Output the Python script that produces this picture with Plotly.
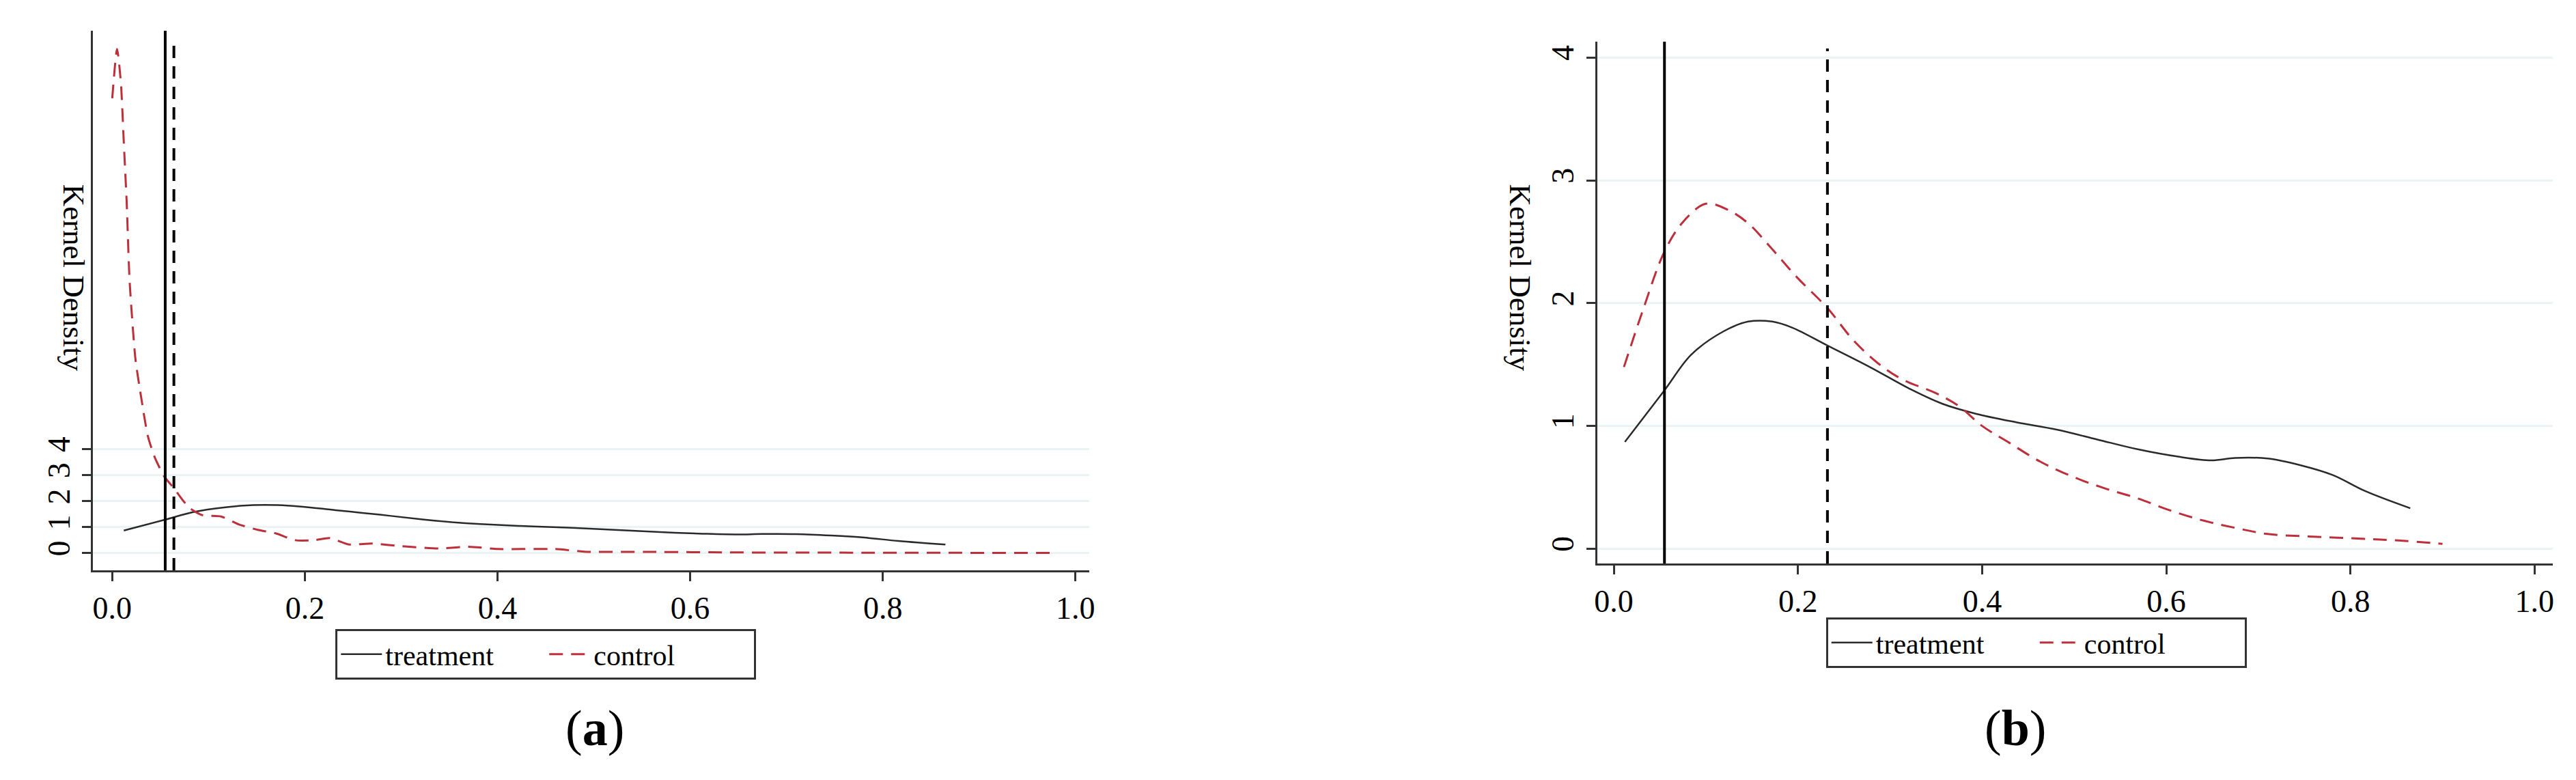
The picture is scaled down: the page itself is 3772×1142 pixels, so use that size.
import plotly.graph_objects as go

# treatment density (same sample in both panels)
treat_x = [0.012, 0.055, 0.084, 0.119, 0.146, 0.172, 0.194, 0.232, 0.278, 0.322, 0.357, 0.393,
           0.437, 0.481, 0.525, 0.569, 0.613, 0.649, 0.675, 0.710, 0.746, 0.781, 0.816, 0.865]
treat_y = [0.87, 1.29, 1.58, 1.77, 1.85, 1.85, 1.80, 1.655, 1.48, 1.30, 1.18, 1.10,
           1.03, 0.97, 0.89, 0.81, 0.75, 0.72, 0.74, 0.735, 0.68, 0.60, 0.47, 0.33]

# control density, panel (a)
ctrl_a_x = [0.0, 0.005, 0.009, 0.012, 0.015, 0.018, 0.024, 0.030, 0.037, 0.044, 0.054, 0.064,
            0.074, 0.081, 0.094, 0.113, 0.132, 0.151, 0.170, 0.190, 0.210, 0.226, 0.245, 0.270,
            0.300, 0.340, 0.370, 0.400, 0.460, 0.490, 0.560, 0.640, 0.780, 0.978]
ctrl_a_y = [17.5, 19.4, 18.1, 15.8, 13.5, 10.5, 7.5, 6.0, 4.5, 3.7, 2.95, 2.5,
            2.0, 1.72, 1.46, 1.41, 1.1, 0.9, 0.76, 0.5, 0.5, 0.58, 0.34, 0.37,
            0.27, 0.18, 0.25, 0.16, 0.16, 0.06, 0.05, 0.03, 0.02, 0.01]

# control density, panel (b)
ctrl_b_x = [0.011, 0.031, 0.055, 0.075, 0.100, 0.124, 0.146, 0.172, 0.199, 0.232, 0.260, 0.287,
            0.313, 0.349, 0.375, 0.400, 0.428, 0.463, 0.499, 0.534, 0.569, 0.605, 0.640, 0.675,
            0.710, 0.755, 0.808, 0.852, 0.900]
ctrl_b_y = [1.48, 1.93, 2.42, 2.66, 2.81, 2.76, 2.65, 2.44, 2.21, 1.96, 1.70, 1.51,
            1.38, 1.27, 1.16, 1.00, 0.87, 0.71, 0.585, 0.49, 0.41, 0.31, 0.23, 0.17,
            0.12, 0.10, 0.083, 0.067, 0.04]

# means (vertical reference lines)
mean_treat_a, mean_ctrl_a = 0.055, 0.064
mean_treat_b, mean_ctrl_b = 0.055, 0.232

x_ticks = [0.0, 0.2, 0.4, 0.6, 0.8, 1.0]
y_ticks = [0, 1, 2, 3, 4]

FONT = "Liberation Serif"
AX = "#333333"
GRID = "#ebf4f4"
RED = "#bd2f3a"
TREAT = "#2a2a2a"

fig = go.Figure()

fig.add_trace(go.Scatter(x=treat_x, y=treat_y, mode="lines", name="treatment",
                         line=dict(color=TREAT, width=2.5, shape="spline"),
                         xaxis="x", yaxis="y", legend="legend"))
fig.add_trace(go.Scatter(x=ctrl_a_x, y=ctrl_a_y, mode="lines", name="control",
                         line=dict(color=RED, width=3, dash="20px,12px", shape="spline", smoothing=0.6),
                         xaxis="x", yaxis="y", legend="legend"))

fig.add_trace(go.Scatter(x=treat_x, y=treat_y, mode="lines", name="treatment",
                         line=dict(color=TREAT, width=2.5, shape="spline"),
                         xaxis="x2", yaxis="y2", legend="legend2"))
fig.add_trace(go.Scatter(x=ctrl_b_x, y=ctrl_b_y, mode="lines", name="control",
                         line=dict(color=RED, width=3, dash="20px,12px", shape="spline"),
                         xaxis="x2", yaxis="y2", legend="legend2"))

# mean lines
for xr, yr, xv, top, dash in [("x", "y", mean_treat_a, 1.0, "solid"),
                              ("x", "y", mean_ctrl_a, 0.985, "18px,12px"),
                              ("x2", "y2", mean_treat_b, 1.0, "solid"),
                              ("x2", "y2", mean_ctrl_b, 0.987, "18px,12px")]:
    fig.add_shape(type="line", xref=xr, yref=yr + " domain", x0=xv, x1=xv, y0=0, y1=top,
                  line=dict(color="black", width=4, dash=dash))

axis_common = dict(showline=True, linecolor=AX, linewidth=3, ticks="outside", ticklen=13,
                   tickwidth=3, tickcolor=AX, zeroline=False,
                   tickfont=dict(family=FONT, size=46, color="black"))

xa = dict(axis_common, showgrid=False, tickvals=x_ticks, tickformat=".1f")
ya = dict(axis_common, showgrid=True, gridcolor=GRID, gridwidth=3, tickvals=y_ticks,
          tickangle=-90)

fig.update_layout(
    width=3772, height=1142, autosize=False,
    margin=dict(l=0, r=0, t=0, b=0),
    paper_bgcolor="white", plot_bgcolor="white",
    font=dict(family=FONT, color="black"),
    xaxis=dict(xa, domain=[0.0331, 0.4210], range=[-0.0198, 1.014], anchor="y"),
    yaxis=dict(ya, domain=[0.2758, 0.9676], range=[-0.66, 20.1], anchor="x"),
    xaxis2=dict(xa, domain=[0.6190, 0.9913], range=[-0.018, 1.020], anchor="y2"),
    yaxis2=dict(ya, domain=[0.2846, 0.9536], range=[-0.12, 4.13], anchor="x2"),
    legend=dict(orientation="h", x=0.1275, y=0.2005, xanchor="left", yanchor="top",
                bordercolor=AX, borderwidth=3, font=dict(family=FONT, size=42),
                entrywidth=230, itemwidth=60),
    legend2=dict(orientation="h", x=0.7081, y=0.2154, xanchor="left", yanchor="top",
                 bordercolor=AX, borderwidth=3, font=dict(family=FONT, size=42),
                 entrywidth=230, itemwidth=60),
)

# rotated y-axis titles (reading top to bottom, as in the source)
for xp in [0.0186, 0.589]:
    fig.add_annotation(text="Kernel Density", xref="paper", yref="paper", x=xp, y=0.651,
                       showarrow=False, textangle=90, font=dict(family=FONT, size=45))

# panel captions
for xp, lab in [(0.2166, "a"), (0.7943, "b")]:
    fig.add_annotation(text="(<b>%s</b>)" % lab, xref="paper", yref="paper", x=xp, y=0.036,
                       showarrow=False, font=dict(family=FONT, size=74))

fig.write_html("out.html")
